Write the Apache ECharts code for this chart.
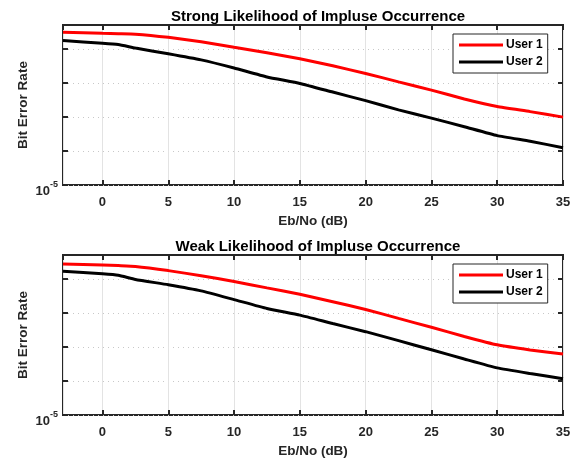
<!DOCTYPE html>
<html>
<head>
<meta charset="utf-8">
<script src="https://cdn.jsdelivr.net/npm/echarts@6/dist/echarts.min.js"></script>
<style>
  html, body { margin: 0; padding: 0; background: #fff; }
  #chart { width: 581px; height: 462px; }
</style>
</head>
<body>
<div id="chart"></div>
<script>
// Eb/No sample points (dB)
const snr = [-3, 0, 1.2, 2.5, 5, 7.5, 10, 12.5, 15, 17.5, 20, 22.5, 25, 27.5, 30, 32.5, 35];

// strong impulse likelihood
const strongUser1 = [0.304, 0.284, 0.277, 0.269, 0.217, 0.161, 0.111, 0.0766, 0.0512, 0.0316, 0.0188, 0.0107, 0.00613, 0.00336, 0.00201, 0.00143, 0.000986];
const strongUser2 = [0.174, 0.146, 0.133, 0.105, 0.0716, 0.0472, 0.0273, 0.0149, 0.00962, 0.00537, 0.0030, 0.00161, 0.000923, 0.000515, 0.000282, 0.000193, 0.000124];

// weak impulse likelihood
const weakUser1 = [0.273, 0.255, 0.244, 0.231, 0.174, 0.123, 0.0835, 0.0541, 0.035, 0.0212, 0.01256, 0.00687, 0.00377, 0.00203, 0.00115, 0.000813, 0.000618];
const weakUser2 = [0.166, 0.140, 0.127, 0.0955, 0.067, 0.0442, 0.0245, 0.0134, 0.00857, 0.00485, 0.0028, 0.00153, 0.000824, 0.000442, 0.000242, 0.000165, 0.000116];

const titles = ['Strong Likelihood of Impluse Occurrence', 'Weak Likelihood of Impluse Occurrence'];
const seriesNames = ['User 1', 'User 2'];
const xMin = -3, xMax = 35;
const yMin = 1e-5, yMax = 0.5;

const FONT = '"Liberation Sans", Arial, sans-serif';
const AX = '#262626';
const pairs = arr => snr.map((x, i) => [x, arr[i]]);

const gridTops = [25, 255];
const gridH = 160;

const grids = [], xAxes = [], yAxes = [], series = [], legends = [], titleOpts = [];

gridTops.forEach((top, g) => {
  grids.push({ left: 63, top: top, width: 500, height: gridH, show: true, borderColor: AX, borderWidth: 2, backgroundColor: '#fff' });

  titleOpts.push({
    text: titles[g], left: 313, top: top - 21, textAlign: 'center',
    textStyle: { fontFamily: FONT, fontSize: 15, fontWeight: 'bold', color: '#000' }
  });

  // bottom x axis
  xAxes.push({
    type: 'value', gridIndex: g, min: xMin, max: xMax, splitNumber: 8,
    name: 'Eb/No (dB)', nameLocation: 'middle', nameGap: 29,
    nameTextStyle: { fontFamily: FONT, fontSize: 13.5, fontWeight: 'bold', color: AX },
    axisLine: { show: false, onZero: false },
    axisTick: { inside: true, length: 5, lineStyle: { color: AX, width: 2 } },
    axisLabel: { showMinLabel: false, margin: 11, fontFamily: FONT, fontSize: 13, fontWeight: 'bold', color: AX },
    splitLine: { show: true, lineStyle: { color: '#e3e3e3', width: 1 } }
  });
  // top x axis, ticks only
  xAxes.push({
    type: 'value', gridIndex: g, position: 'top', min: xMin, max: xMax, splitNumber: 8,
    axisLine: { show: false, onZero: false },
    axisTick: { inside: true, length: 5, lineStyle: { color: AX, width: 2 } },
    axisLabel: { show: false }, splitLine: { show: false }
  });

  // left log y axis
  yAxes.push({
    type: 'log', logBase: 10, gridIndex: g, min: yMin, max: yMax,
    name: 'Bit Error Rate', nameLocation: 'middle', nameGap: 33, nameMoveOverlap: false,
    nameTextStyle: { fontFamily: FONT, fontSize: 13.5, fontWeight: 'bold', color: AX },
    axisLine: { show: false, onZero: false },
    axisTick: { inside: true, length: 5, lineStyle: { color: AX, width: 2 } },
    axisLabel: {
      margin: 5,
      formatter: v => Math.abs(Math.log10(v) + 5) < 1e-6 ? '{b|10}{s|-5}' : '',
      rich: {
        b: { fontFamily: FONT, fontSize: 13, fontWeight: 'bold', color: AX, verticalAlign: 'bottom', padding: [13, 0, 0, 0] },
        s: { fontFamily: FONT, fontSize: 9, fontWeight: 'bold', color: AX, verticalAlign: 'bottom', padding: [0, 0, 9, 0] }
      }
    },
    splitLine: { show: true, showMaxLine: false, lineStyle: { color: '#c8c8c8', width: 1, type: [1, 4] } }
  });
  // right y axis, ticks only
  yAxes.push({
    type: 'log', logBase: 10, gridIndex: g, position: 'right', min: yMin, max: yMax,
    axisLine: { show: false, onZero: false },
    axisTick: { inside: true, length: 5, lineStyle: { color: AX, width: 2 } },
    axisLabel: { show: false }, splitLine: { show: false }
  });

  const data = g === 0 ? [strongUser1, strongUser2] : [weakUser1, weakUser2];
  const colors = ['#ff0000', '#000000'];
  data.forEach((arr, k) => {
    series.push({
      type: 'line', name: seriesNames[k], xAxisIndex: g * 2, yAxisIndex: g * 2,
      data: pairs(arr), symbol: 'none', smooth: 0.15,
      lineStyle: { color: colors[k], width: 3 }, itemStyle: { color: colors[k] },
      z: 3 + k
    });
  });

  legends.push({
    data: seriesNames.map(n => ({ name: n, icon: 'rect' })),
    orient: 'vertical', left: 453, top: top + 9,
    itemWidth: 44, itemHeight: 3, itemGap: 5,
    padding: [5, 5, 5, 6],
    backgroundColor: '#fff', borderColor: AX, borderWidth: 1,
    textStyle: { fontFamily: FONT, fontSize: 12, fontWeight: 'bold', color: '#000', padding: [0, 0, 0, -2] }
  });
});

const chart = echarts.init(document.getElementById('chart'), null, { renderer: 'canvas' });
chart.setOption({
  animation: false,
  backgroundColor: '#fff',
  title: titleOpts,
  legend: legends,
  grid: grids,
  xAxis: xAxes,
  yAxis: yAxes,
  series: series
});
</script>
</body>
</html>
